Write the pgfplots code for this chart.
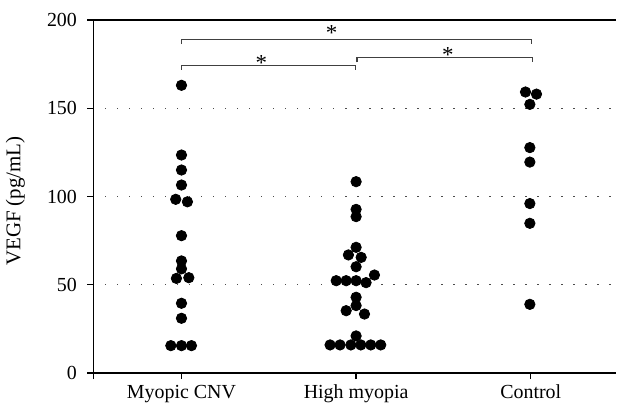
\documentclass[border=0pt]{standalone}
\usepackage{fontspec}
\setmainfont{Liberation Serif}
\usepackage{pgfplots}
\pgfplotsset{compat=1.18}
\usetikzlibrary{calc}
\begin{document}
\begin{tikzpicture}
\begin{axis}[
  name=ax,
  scale only axis, width=261.5bp, height=176.5bp,
  xmin=0.495, xmax=3.49, ymin=0, ymax=200,
  /pgf/number format/assume math mode=true,
  axis x line=box, axis y line=left,
  axis line style={-, line width=0.65bp, black},
  xtick={1,2,3}, xticklabels={Myopic CNV, High myopia, Control},
  extra x ticks={0.495}, extra x tick labels={},
  ytick={0,50,100,150,200},
  xtick pos=bottom, ytick pos=left,
  tick align=outside, major tick length=3bp,
  tick style={black, line width=0.65bp},
  ymajorgrids,
  grid style={black!70, line width=0.6bp, dash pattern=on 0.6bp off 5.4bp},
  ticklabel style={font=\fontsize{10}{12}\selectfont},
  xticklabel style={anchor=base, yshift=-9.5bp},
  yticklabel style={anchor=east, inner sep=0pt, xshift=-5bp},
  ylabel={VEGF (pg/mL)},
  every axis y label/.style={at={(rel axis cs:-0.149,0.487)}, rotate=90, anchor=center, font=\fontsize{10.5}{12}\selectfont},
  clip=false,
]
\addplot[only marks, mark=*, mark size=2.6bp, black] coordinates {
 (1,163) (1,123.5) (1,115) (1,106.5) (0.967,98.4) (1.034,97) (1,77.8)
 (1,63.5) (1,59) (0.971,53.6) (1.042,54) (1,39.5) (1,31)
 (0.939,15.5) (1,15.5) (1.057,15.5)
};
\addplot[only marks, mark=*, mark size=2.6bp, black] coordinates {
 (2,108.4) (2,92.7) (2,88.6) (2,71.2) (1.956,66.9) (2.029,65.5) (2,60.2)
 (1.886,52.3) (1.943,52.3) (2,52.3) (2.057,51.2) (2.105,55.5)
 (2,42.9) (2,38.2) (1.943,35.3) (2.048,33.4) (2,21)
 (1.851,15.9) (1.908,15.9) (1.970,15.9) (2.027,15.9) (2.084,15.9) (2.141,15.9)
};
\addplot[only marks, mark=*, mark size=2.6bp, black] coordinates {
 (2.970,159.2) (3.033,158) (2.995,152.2) (2.995,127.7) (2.995,119.5)
 (2.995,96) (2.995,84.8) (2.995,38.9)
};
% significance brackets
\draw[black!75, line width=0.55bp] (axis cs:1,186.4) -- (axis cs:1,188.7) -- (axis cs:3.005,188.7) -- (axis cs:3.005,186.4);
\draw[black!75, line width=0.55bp] (axis cs:1,171.7) -- (axis cs:1,174) -- (axis cs:1.998,174) -- (axis cs:1.998,171.7);
\draw[black!75, line width=0.55bp] (axis cs:2.005,176) -- (axis cs:2.005,178.7) -- (axis cs:3.01,178.7) -- (axis cs:3.01,176);
\node[inner sep=0pt, font=\fontsize{11.5}{12}\selectfont, yshift=-2bp] at (axis cs:1.86,195) {*};
\node[inner sep=0pt, font=\fontsize{11.5}{12}\selectfont, yshift=-2bp] at (axis cs:1.458,178) {*};
\node[inner sep=0pt, font=\fontsize{11.5}{12}\selectfont, yshift=-2bp] at (axis cs:2.526,182.6) {*};
\end{axis}
\pgfresetboundingbox
\path[use as bounding box] ($(ax.south west)+(-46.65bp,-16bp)$) rectangle ($(ax.north east)+(0.35bp,10bp)$);
\end{tikzpicture}
\end{document}
